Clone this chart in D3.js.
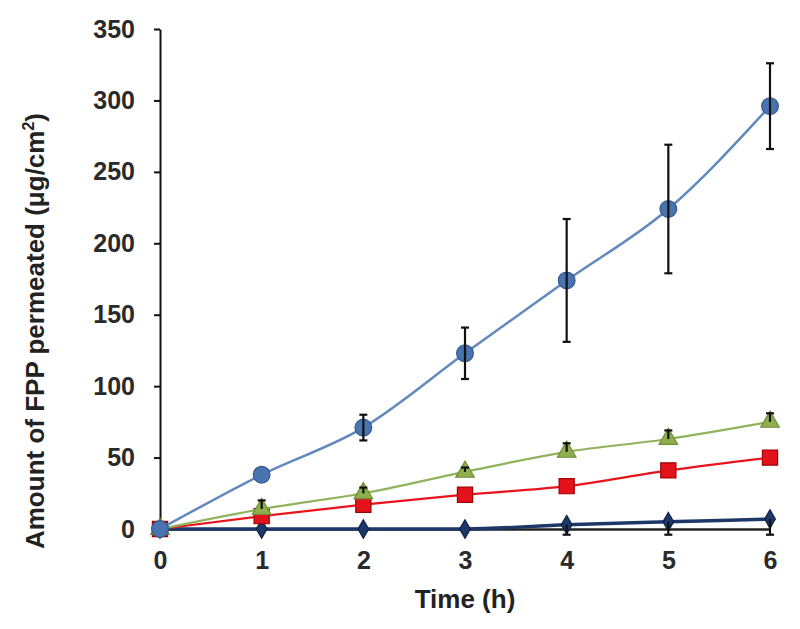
<!DOCTYPE html>
<html>
<head>
<meta charset="utf-8">
<script src="https://cdn.jsdelivr.net/npm/d3@7"></script>
<style>
  html, body { margin: 0; padding: 0; background: #fff; }
  svg { display: block; }
</style>
</head>
<body>
<div id="chart"></div>
<script>
// Data
const hours = [0, 1, 2, 3, 4, 5, 6]
const yTicks = [0, 50, 100, 150, 200, 250, 300, 350]

const circleVals = [0, 38, 71, 123, 174, 224, 296]
const circleErr = [0, 0, 9, 18, 43, 45, 30]

const triangleVals = [0, 14, 25, 40, 54, 63, 75]
const triangleErrUp = [0, 6, 4, 3, 6, 6, 6]

const squareVals = [0, 9, 17, 24, 30, 41, 50]

const diamondVals = [0, 0, 0, 0, 3, 5, 7]
const diamondErrDown = [0, 0, 0, 0, 7, 9, 11]

const width = 800
const height = 629
const margin = { top: 29, right: 30, bottom: 100, left: 160 }

const svg = d3
  .select('#chart')
  .append('svg')
  .attr('width', width)
  .attr('height', height)
  .style('font-family', '"Liberation Sans", Arial, sans-serif')

const x = d3
  .scaleLinear()
  .domain([0, 6])
  .range([margin.left, width - margin.right])

const y = d3
  .scaleLinear()
  .domain([0, 350])
  .range([height - margin.bottom, margin.top])

// Y axis
const yAxis = svg
  .append('g')
  .attr('transform', `translate(${margin.left},0)`)
  .call(d3.axisLeft(y).tickValues(yTicks).tickSize(6).tickSizeOuter(0).tickPadding(19))
yAxis.select('.domain').attr('stroke', '#111').attr('stroke-width', 2)
yAxis.selectAll('.tick line').attr('stroke', '#111').attr('stroke-width', 2)
yAxis.selectAll('.tick text').attr('font-size', 25).attr('font-weight', 'bold').attr('fill', '#2a2a2a')

// X axis (no tick marks)
const xAxis = svg
  .append('g')
  .attr('transform', `translate(0,${y(0)})`)
  .call(d3.axisBottom(x).tickValues(hours).tickFormat(d3.format('d')).tickSize(0).tickSizeOuter(0).tickPadding(22))
xAxis.select('.domain').attr('stroke', '#222').attr('stroke-width', 2.5)
xAxis.selectAll('.tick text').attr('font-size', 25).attr('font-weight', 'bold').attr('fill', '#2a2a2a')

// Axis titles
svg
  .append('text')
  .attr('x', 465)
  .attr('y', 608)
  .attr('text-anchor', 'middle')
  .attr('font-size', 26)
  .attr('font-weight', 'bold')
  .attr('fill', '#222')
  .text('Time (h)')

const yTitle = svg
  .append('text')
  .attr('transform', 'translate(44,331) rotate(-90)')
  .attr('text-anchor', 'middle')
  .attr('font-size', 26)
  .attr('font-weight', 'bold')
  .attr('fill', '#222')
yTitle.append('tspan').text('Amount of FPP permeated (μg/cm')
yTitle.append('tspan').attr('font-size', 16).attr('dy', -10).text('2')
yTitle.append('tspan').attr('dy', 10).text(')')

const line = d3
  .line()
  .x((d, i) => x(hours[i]))
  .y((d) => y(d))
  .curve(d3.curveMonotoneX)

function drawSeries(vals, lineColor, lineWidth, symbol, size, fill, stroke) {
  svg
    .append('path')
    .datum(vals)
    .attr('d', line)
    .attr('fill', 'none')
    .attr('stroke', lineColor)
    .attr('stroke-width', lineWidth)
  svg
    .append('g')
    .selectAll('path')
    .data(vals)
    .join('path')
    .attr('transform', (d, i) => `translate(${x(hours[i])},${y(d)})`)
    .attr('d', d3.symbol().type(symbol).size(size))
    .attr('fill', fill)
    .attr('stroke', stroke)
    .attr('stroke-width', 1.2)
}

function drawErrors(vals, up, down) {
  const g = svg.append('g').attr('stroke', '#111').attr('stroke-width', 2.2)
  vals.forEach((v, i) => {
    const hi = v + up[i]
    const lo = v - down[i]
    if (hi === lo) return
    const cx = x(hours[i])
    g.append('line').attr('x1', cx).attr('x2', cx).attr('y1', y(hi)).attr('y2', y(lo))
    if (up[i] > 0) {
      g.append('line').attr('x1', cx - 4).attr('x2', cx + 4).attr('y1', y(hi)).attr('y2', y(hi))
    }
    if (down[i] > 0) {
      g.append('line').attr('x1', cx - 4).attr('x2', cx + 4).attr('y1', y(lo)).attr('y2', y(lo))
    }
  })
}

const zeros = hours.map(() => 0)

drawSeries(diamondVals, '#1c3768', 3.5, d3.symbolDiamond, 100, '#1c3768', '#0f2248')
drawErrors(diamondVals, zeros, diamondErrDown)

drawSeries(squareVals, '#e8141c', 2.2, d3.symbolSquare, 230, '#e3121b', '#a00000')

drawSeries(triangleVals, '#8fb35a', 2.2, d3.symbolTriangle, 150, '#8fae4e', '#6f8f3a')
drawErrors(triangleVals, triangleErrUp, zeros)

drawSeries(circleVals, '#6189bd', 2.5, d3.symbolCircle, 220, '#4a74b0', '#345b90')
drawErrors(circleVals, circleErr, circleErr)
</script>
</body>
</html>
